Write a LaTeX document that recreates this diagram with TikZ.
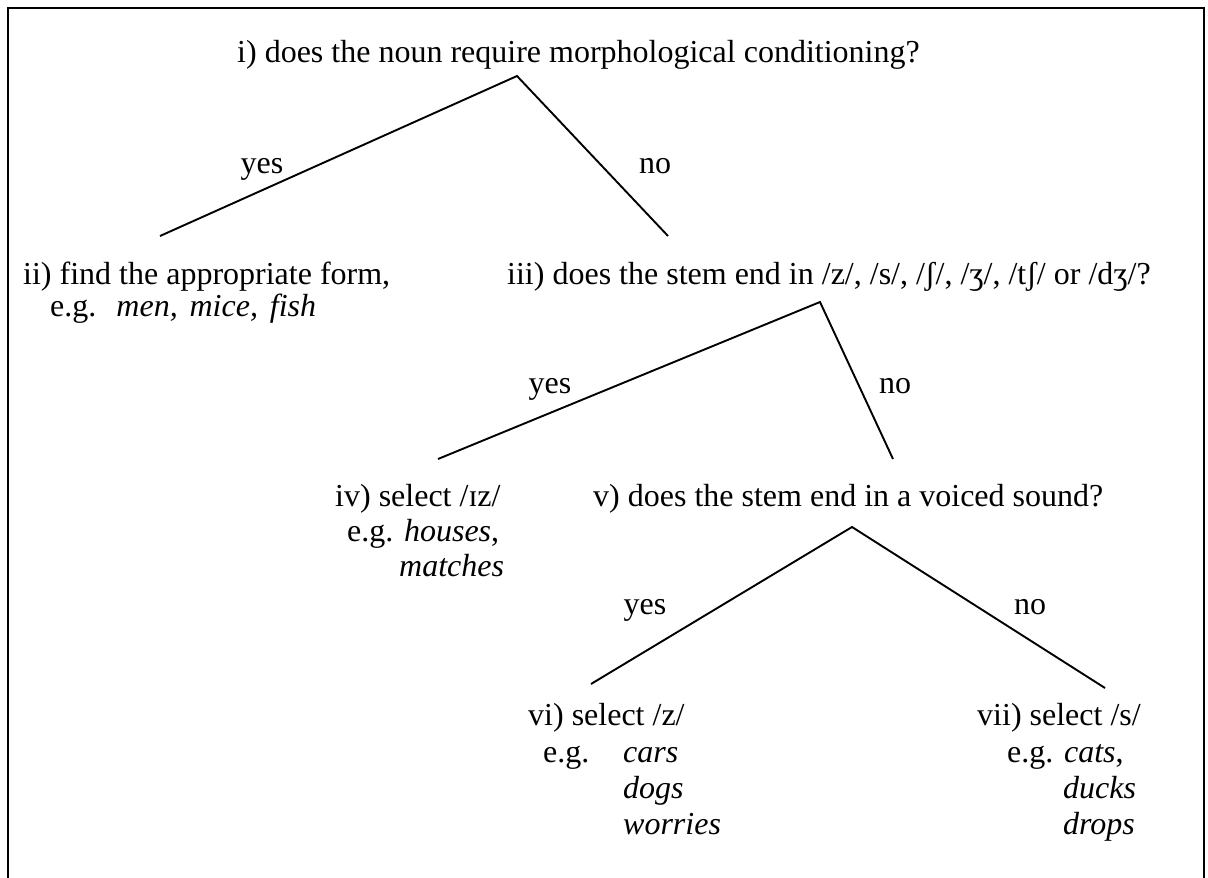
\documentclass[tikz,border=0pt]{standalone}
\usepackage{fontspec}
\setmainfont{Liberation Serif}
\newcommand{\fs}[1]{\fontsize{#1}{37}\selectfont}
\begin{document}
\begin{tikzpicture}[x=1pt,y=-1pt,
  every node/.style={inner sep=0pt, font=\fs{32}},
  txt/.style={anchor=base west},
  lab/.style={anchor=base},
  branch/.style={line width=1.9pt},
  frame/.style={line width=2.4pt}]
\useasboundingbox (0,0) rectangle (1208,878);
\draw[frame] (8,878) -- (8,8) -- (1204,8) -- (1204,878);

% texts
\node[txt] (q1) at (237,62) {i) does the noun require morphological conditioning?};
\node[txt] (a2) at (23,284) {ii) find the appropriate form,};
\node[txt] (a2b) at (50,316) {\makebox[266pt][s]{e.g. \textit{men, mice, fish}}};
\node[txt] (q3) at (507,284) {iii) does the stem end in /z/, /s/, /ʃ/, /ʒ/, /tʃ/ or /dʒ/?};
\node[txt] (a4) at (335,506) {iv) select /ɪz/};
\node[txt] (a4b) at (347,541) {e.g. \textit{houses},};
\node[txt] (a4c) at (399,576) {\textit{matches}};
\node[txt] (q5) at (593,506) {v) does the stem end in a voiced sound?};
\node[txt] (a6) at (528,725) {vi) select /z/};
\node[txt] (a6b) at (543,762) {e.g.};
\node[txt] (a6c) at (623,762) {\textit{cars}};
\node[txt] (a6d) at (623,798) {\textit{dogs}};
\node[txt] (a6e) at (623,834) {\textit{worries}};
\node[txt] (a7) at (977,725) {vii) select /s/};
\node[txt] (a7b) at (1007,762) {e.g. \textit{cats},};
\node[txt] (a7c) at (1063,798) {\textit{ducks}};
\node[txt] (a7d) at (1063,834) {\textit{drops}};

% branch points
\coordinate (t1) at (517,76);
\coordinate (l1) at (160,236);
\coordinate (r1) at (668,236);
\coordinate (t2) at (820,302);
\coordinate (l2) at (438,459);
\coordinate (r2) at (893,459);
\coordinate (t3) at (852,527);
\coordinate (l3) at (591,684);
\coordinate (r3) at (1105,688);

\draw[branch] (l1) -- (t1) -- (r1);
\draw[branch] (l2) -- (t2) -- (r2);
\draw[branch] (l3) -- (t3) -- (r3);

\node[lab] (y1) at (262,173) {yes};
\node[lab] (n1) at (655,173) {no};
\node[lab] (y2) at (550,393) {yes};
\node[lab] (n2) at (895,393) {no};
\node[lab] (y3) at (645,614) {yes};
\node[lab] (n3) at (1030,614) {no};
\end{tikzpicture}
\end{document}
